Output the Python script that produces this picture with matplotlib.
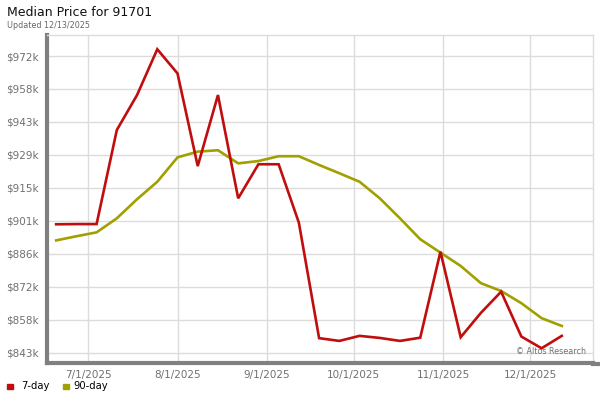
import numpy as np
import pandas as pd
import matplotlib
matplotlib.use("Agg")
import matplotlib.pyplot as plt
import matplotlib.dates as mdates

# weekly points, Jun 20 - Dec 12 2025
dates = pd.date_range("2025-06-20", "2025-12-12", freq="7D")

price_7day = [899.2, 899.3, 899.3, 940.2, 955.4, 975.3, 964.8, 924.5, 955.4, 910.5,
              925.3, 925.3, 899.9, 849.7, 848.5, 850.7, 849.8, 848.5, 849.9, 887.3,
              850.1, 860.7, 869.9, 850.4, 845.3, 850.7]
price_90day = [892.2, 894.0, 895.7, 901.8, 910.1, 917.7, 928.3, 930.8, 931.4, 925.7,
               926.7, 928.8, 928.8, 925.0, 921.4, 917.7, 910.5, 901.8, 892.7, 886.9,
               881.1, 873.6, 870.2, 864.9, 858.4, 855.0]

ytick_vals = [843.4 + 14.33 * i for i in range(10)]
ytick_labels = ["$843k", "$858k", "$872k", "$886k", "$901k",
                "$915k", "$929k", "$943k", "$958k", "$972k"]
xtick_dates = pd.to_datetime(["2025-07-01", "2025-08-01", "2025-09-01",
                              "2025-10-01", "2025-11-01", "2025-12-01"])
xtick_labels = ["7/1/2025", "8/1/2025", "9/1/2025", "10/1/2025", "11/1/2025", "12/1/2025"]

red = "#c00d0d"
olive = "#a0a000"

fig = plt.figure(figsize=(6, 4), dpi=100)
ax = fig.add_axes([47 / 600, 37 / 400, 546 / 600, 328 / 400])

ax.plot(dates, price_90day, color=olive, lw=1.9, solid_joinstyle="miter")
ax.plot(dates, price_7day, color=red, lw=1.9, solid_joinstyle="miter")

ax.set_xlim(pd.Timestamp("2025-06-16 20:00"), pd.Timestamp("2025-12-22 19:00"))
ax.set_ylim(838.9, 981.5)

ax.set_yticks(ytick_vals)
ax.set_yticklabels(ytick_labels)
ax.set_xticks(xtick_dates)
ax.set_xticklabels(xtick_labels)
ax.tick_params(axis="both", length=0, labelsize=7.5, labelcolor="#707070")
ax.tick_params(axis="y", pad=6)
ax.tick_params(axis="x", pad=5)

ax.grid(True, color="#dcdcdc", lw=1)
ax.set_axisbelow(True)

for side in ["top", "right"]:
    ax.spines[side].set_color("#dcdcdc")
    ax.spines[side].set_linewidth(1)
ax.spines["left"].set_color("#808080")
ax.spines["left"].set_linewidth(3)
ax.spines["bottom"].set_color("#808080")
ax.spines["bottom"].set_linewidth(3)

# bottom bar runs a little past the plot
fig.add_artist(plt.Line2D([593 / 600, 598 / 600], [1 - 364 / 400, 1 - 364 / 400],
                          color="#808080", lw=3))

ax.text(0.987, 0.034, "\u00a9 Altos Research", transform=ax.transAxes,
        ha="right", va="center", fontsize=5.8, color="#707070")

fig.text(7 / 600, 1 - 13 / 400, "Median Price for 91701", fontsize=9,
         color="#111111", va="center", ha="left")
fig.text(7 / 600, 1 - 25 / 400, "Updated 12/13/2025", fontsize=5.8,
         color="#666666", va="center", ha="left")

# legend
ly = 1 - 386 / 400
fig.patches.append(plt.Rectangle((7 / 600, ly - 3 / 400), 5.5 / 600, 5.5 / 400,
                                 transform=fig.transFigure, color=red))
fig.text(21 / 600, ly, "7-day", fontsize=7.2, va="center", ha="left")
fig.patches.append(plt.Rectangle((63 / 600, ly - 3 / 400), 5.5 / 600, 5.5 / 400,
                                 transform=fig.transFigure, color=olive))
fig.text(73 / 600, ly, "90-day", fontsize=7.2, va="center", ha="left")

fig.savefig("out.png", dpi=100)
